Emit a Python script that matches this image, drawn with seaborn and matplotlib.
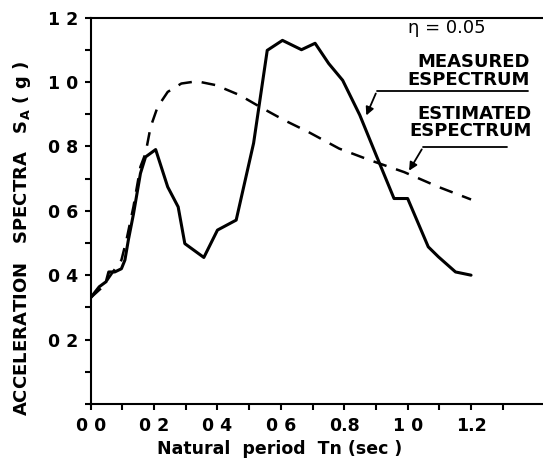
import matplotlib
matplotlib.use("Agg")
import matplotlib.pyplot as plt
import seaborn as sns
import pandas as pd

sns.set_theme(style="ticks")
plt.rcParams['font.family'] = ['DejaVu Sans']
plt.rcParams['text.color'] = 'black'
plt.rcParams['axes.labelcolor'] = 'black'
plt.rcParams['xtick.color'] = 'black'
plt.rcParams['ytick.color'] = 'black'

# Measured spectrum (solid)
measured_T = [0.0, 0.027, 0.049, 0.057, 0.076, 0.097, 0.108, 0.119, 0.135, 0.157, 0.173,
              0.205, 0.243, 0.276, 0.297, 0.357, 0.40, 0.459, 0.514, 0.557, 0.605,
              0.665, 0.708, 0.751, 0.795, 0.849, 0.903, 0.957, 1.0, 1.065, 1.097, 1.151, 1.2]
measured_SA = [0.33, 0.364, 0.38, 0.41, 0.41, 0.42, 0.447, 0.51, 0.59, 0.716, 0.767,
               0.79, 0.674, 0.612, 0.498, 0.455, 0.54, 0.571, 0.81, 1.098, 1.129,
               1.10, 1.12, 1.057, 1.005, 0.897, 0.767, 0.638, 0.638, 0.488, 0.457, 0.41, 0.40]

# Estimated spectrum (dashed)
estimated_T = [0.0, 0.038, 0.070, 0.097, 0.113, 0.135, 0.157, 0.173, 0.189, 0.211, 0.243,
               0.286, 0.335, 0.395, 0.47, 0.535, 0.611, 0.686, 0.784, 0.881, 0.989, 1.097, 1.2]
estimated_SA = [0.33, 0.364, 0.41, 0.447, 0.51, 0.613, 0.737, 0.778, 0.86, 0.922, 0.969,
                0.995, 1.002, 0.99, 0.959, 0.922, 0.881, 0.845, 0.793, 0.757, 0.72, 0.674, 0.635]

x_ticks = [0.0, 0.2, 0.4, 0.6, 0.8, 1.0, 1.2]
x_ticklabels = ["0 0", "0 2", "0 4", "0 6", "0.8", "1 0", "1.2"]
y_ticks = [0.2, 0.4, 0.6, 0.8, 1.0, 1.2]
y_ticklabels = ["0 2", "0 4", "0 6", "0 8", "1 0", "1 2"]

df_m = pd.DataFrame({"T": measured_T, "SA": measured_SA})
df_e = pd.DataFrame({"T": estimated_T, "SA": estimated_SA})

fig = plt.figure(figsize=(5.43, 4.63), dpi=100)
ax = fig.add_axes([0.167, 0.1274, 0.833, 0.8348])

sns.lineplot(data=df_m, x="T", y="SA", ax=ax, color="black", lw=2.2, sort=False)
sns.lineplot(data=df_e, x="T", y="SA", ax=ax, color="black", lw=1.8, sort=False,
             linestyle=(0, (5.5, 4)))

ax.set_xlim(0, 1.427)
ax.set_ylim(0, 1.2)
ax.set_xticks(x_ticks)
ax.set_xticklabels(x_ticklabels, fontsize=12.5, fontweight="bold")
ax.set_xticks([0.1, 0.3, 0.5, 0.7, 0.9, 1.1, 1.3], minor=True)
ax.set_yticks(y_ticks)
ax.set_yticklabels(y_ticklabels, fontsize=12.5, fontweight="bold")
ax.set_yticks([0.0, 0.1, 0.3, 0.5, 0.7, 0.9, 1.1], minor=True)
ax.tick_params(axis="both", which="both", direction="out", length=4, width=1.5, color="black")
ax.tick_params(axis="x", which="major", pad=5)
ax.tick_params(axis="y", which="major", pad=5)

for s in ["left", "bottom", "top"]:
    ax.spines[s].set_linewidth(1.5)
    ax.spines[s].set_color("black")
ax.spines["right"].set_visible(False)

ax.set_xlabel("Natural  period  Tn (sec )", fontsize=12.5, fontweight="bold")
ax.xaxis.set_label_coords(0.4185, -0.093)
ax.set_ylabel("ACCELERATION   SPECTRA   $\\mathbf{S_A}$ ( g )", fontsize=13, fontweight="bold")
ax.yaxis.set_label_coords(-0.128, 0.427)

ax.text(1.0, 1.168, "η = 0.05", fontsize=13, ha="left", va="center")
ax.text(1.385, 1.034, "MEASURED\nESPECTRUM", fontsize=13, ha="right", va="center",
        linespacing=0.95, fontweight="bold")
ax.text(1.39, 0.874, "ESTIMATED\nESPECTRUM", fontsize=13, ha="right", va="center",
        linespacing=0.95, fontweight="bold")

# Leader lines with arrows
ax.plot([0.903, 1.38], [0.972, 0.972], color="black", lw=1.3)
ax.annotate("", xy=(0.866, 0.888), xytext=(0.903, 0.972),
            arrowprops=dict(arrowstyle="-|>", color="black", lw=1.3, mutation_scale=12))
ax.plot([1.049, 1.313], [0.798, 0.798], color="black", lw=1.3)
ax.annotate("", xy=(1.0, 0.717), xytext=(1.049, 0.798),
            arrowprops=dict(arrowstyle="-|>", color="black", lw=1.3, mutation_scale=12))

fig.savefig("out.png", dpi=100)
